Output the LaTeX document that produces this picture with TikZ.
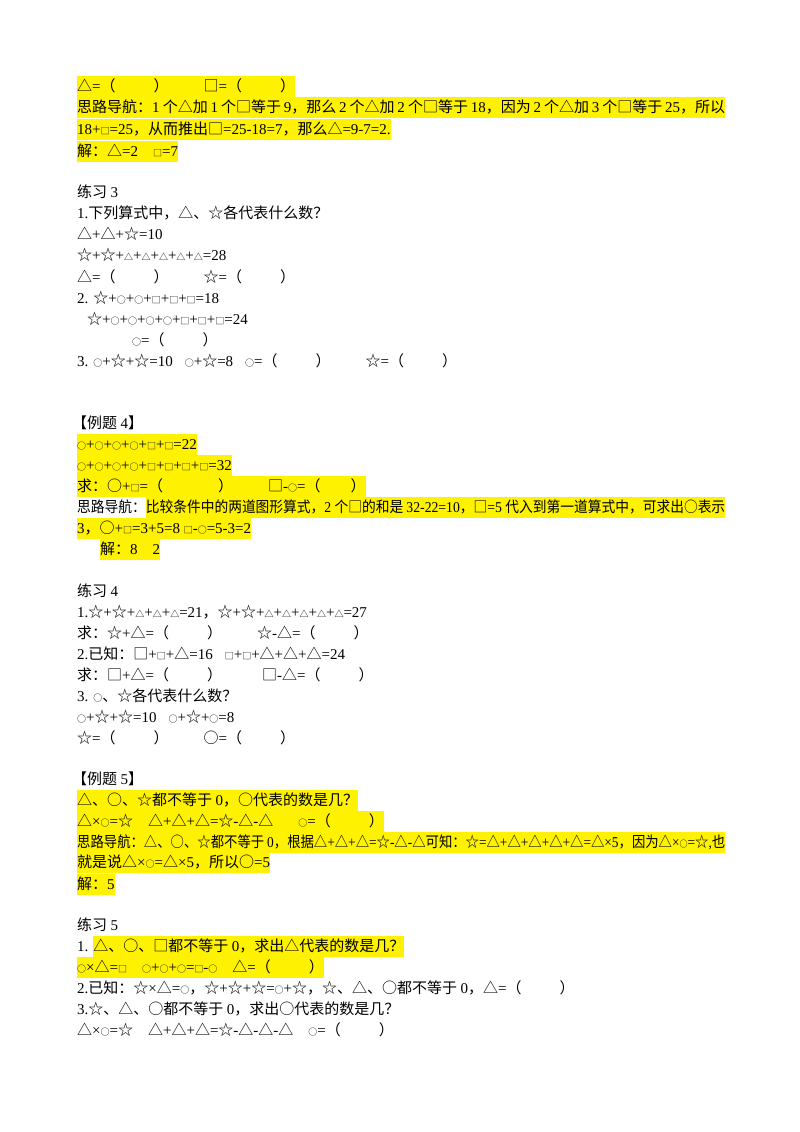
\documentclass[tikz,border=0pt]{standalone}
\usepackage{graphicx}
\usepackage{fontspec}
\setmainfont{Liberation Serif}
\newfontfamily\cjk{Noto Sans CJK SC}
\newfontfamily\lat{Liberation Serif}
\XeTeXinterchartokenstate=1
\newXeTeXintercharclass\cjkcls
\newcount\cc
\cc="2E80 \loop\ifnum\cc<"A000 \XeTeXcharclass\cc=\cjkcls \advance\cc 1 \repeat
\cc="FF00 \loop\ifnum\cc<"FFF0 \XeTeXcharclass\cc=\cjkcls \advance\cc 1 \repeat
\cc="25A0 \loop\ifnum\cc<"2607 \XeTeXcharclass\cc=\cjkcls \advance\cc 1 \repeat
\XeTeXinterchartoks 0 \cjkcls = {\cjk}
\XeTeXinterchartoks 4095 \cjkcls = {\cjk}
\XeTeXinterchartoks \cjkcls 0 = {\lat}
\XeTeXinterchartoks 4095 0 = {\lat}
\XeTeXlinebreaklocale "zh"
\XeTeXlinebreakskip=0pt plus 2pt minus 1pt
\newcommand\hl[1]{{\setlength\fboxsep{0pt}\colorbox{yellow}{\strut #1}}}
\newcommand\st{{\fontsize{9}{9}\selectfont △}}
\newcommand\sq{{\fontsize{9}{9}\selectfont □}}
\newcommand\sci{{\fontsize{9}{9}\selectfont ○}}
\newcommand\pr{（\hspace{38pt}）}
\tikzset{ln/.style={anchor=base west,inner sep=0pt,font=\fontsize{15}{21}\selectfont}}
\begin{document}
\begin{tikzpicture}[x=1pt,y=-1pt]
\useasboundingbox[fill=white] (0,0) rectangle (800,1132);
\node[ln] (a1) at (77,91) {\hl{△=\pr\hspace{35pt}□=\pr}};
\node[ln] (a2) at (77,112) {\hl{\hbox to 648pt{思路导航：1 个△加 1 个□等于 9，那么 2 个△加 2 个□等于 18，因为 2 个△加 3 个□等于 25，所以}}};
\node[ln] (a3) at (77,134) {\hl{18+\sq=25，从而推出□=25-18=7，那么△=9-7=2.}};
\node[ln] (a4) at (77,156) {\hl{解：△=2\quad\sq=7}};
\node[ln] (b1) at (77,197) {练习 3};
\node[ln] (b2) at (77,218) {1.下列算式中，△、☆各代表什么数？};
\node[ln] (b3) at (77,239) {△+△+☆=10};
\node[ln] (b4) at (77,260) {☆+☆+\st+\st+\st+\st+\st=28};
\node[ln] (b5) at (77,282) {△=\pr\hspace{35pt}☆=\pr};
\node[ln] (b6) at (77,303) {2. ☆+\sci+\sci+\sq+\sq+\sq=18};
\node[ln] (b7) at (87,324) {☆+\sci+\sci+\sci+\sci+\sq+\sq+\sq=24};
\node[ln] (b8) at (132,345) {\sci=\pr};
\node[ln] (b9) at (77,366) {3. \sci+☆+☆=10\hspace{12pt}\sci+☆=8\hspace{12pt}\sci=\pr\hspace{35pt}☆=\pr};
\node[ln] (c1) at (72,428) {【例题 4】};
\node[ln] (c2) at (77,449) {\hl{\sci+\sci+\sci+\sci+\sq+\sq=22}};
\node[ln] (c3) at (77,470) {\hl{\sci+\sci+\sci+\sci+\sq+\sq+\sq+\sq=32}};
\node[ln] (c4) at (77,491) {\hl{求：○+\sq=（\hspace{55pt}）\hspace{35pt}□-\sci=（\hspace{30pt}）}};
\node[ln] (c5) at (77,512) {\resizebox{648pt}{\height}{思路导航：\hl{比较条件中的两道图形算式，2 个□的和是 32-22=10，□=5 代入到第一道算式中，可求出○表示}}};
\node[ln] (c6) at (77,533) {\hl{3，○+\sq=3+5=8 \sq-\sci=5-3=2}};
\node[ln] (c7) at (100,554) {\hl{解：8\quad 2}};
\node[ln] (d1) at (77,596) {练习 4};
\node[ln] (d2) at (77,617) {1.☆+☆+\st+\st+\st=21，☆+☆+\st+\st+\st+\st+\st=27};
\node[ln] (d3) at (77,638) {求：☆+△=\pr\hspace{35pt}☆-△=\pr};
\node[ln] (d4) at (77,659) {2.已知：□+\sq+△=16\hspace{12pt}\sq+\sq+△+△+△=24};
\node[ln] (d5) at (77,680) {求：□+△=\pr\hspace{40pt}□-△=\pr};
\node[ln] (d6) at (77,701) {3. \sci、☆各代表什么数？};
\node[ln] (d7) at (77,722) {\sci+☆+☆=10\hspace{12pt}\sci+☆+\sci=8};
\node[ln] (d8) at (77,743) {☆=\pr\hspace{35pt}○=\pr};
\node[ln] (e1) at (72,784) {【例题 5】};
\node[ln] (e2) at (77,805) {\hl{△、○、☆都不等于 0，○代表的数是几？}};
\node[ln] (e3) at (77,826) {\hl{△×\sci=☆\hspace{15pt}△+△+△=☆-△-△\hspace{25pt}\sci=\pr}};
\node[ln] (e4) at (77,847) {\resizebox{648pt}{\height}{\hl{思路导航：△、○、☆都不等于 0，根据△+△+△=☆-△-△可知：☆=△+△+△+△+△=△×5，因为△×\sci=☆,也}}};
\node[ln] (e5) at (77,867) {\hl{就是说△×\sci=△×5，所以○=5}};
\node[ln] (e6) at (77,889) {\hl{解：5}};
\node[ln] (f1) at (77,930) {练习 5};
\node[ln] (f2) at (77,951) {1. \hl{△、○、□都不等于 0，求出△代表的数是几？}};
\node[ln] (f3) at (77,972) {\hl{\sci×△=\sq\hspace{15pt}\sci+\sci+\sci=\sq-\sci\hspace{15pt}△=\pr}};
\node[ln] (f4) at (77,993) {2.已知：☆×△=\sci，☆+☆+☆=\sci+☆，☆、△、○都不等于 0，△=\pr};
\node[ln] (f5) at (77,1014) {3.☆、△、○都不等于 0，求出○代表的数是几？};
\node[ln] (f6) at (77,1035) {△×\sci=☆\hspace{15pt}△+△+△=☆-△-△-△\hspace{15pt}\sci=\pr};
\end{tikzpicture}
\end{document}
